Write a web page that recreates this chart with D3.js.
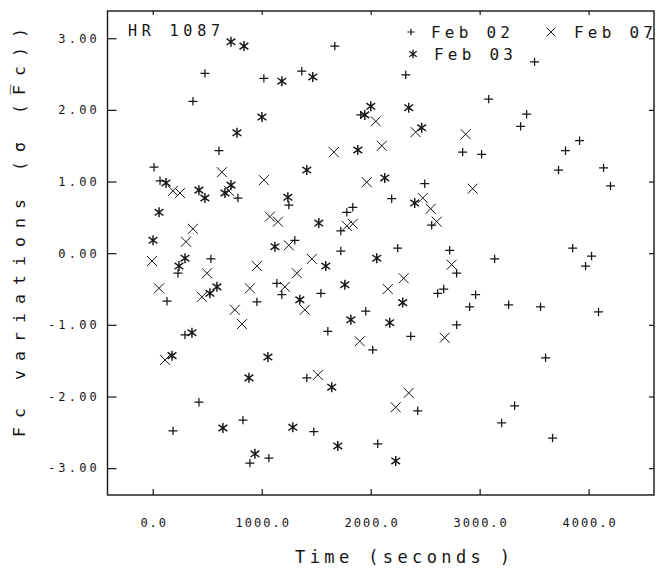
<!DOCTYPE html>
<html>
<head>
<meta charset="utf-8">
<script src="https://cdn.jsdelivr.net/npm/d3@7"></script>
<style>
  html, body { margin: 0; padding: 0; background: #fff; }
  svg { display: block; }
</style>
</head>
<body>
<svg id="chart" width="658" height="569"></svg>
<script>
// Feb 02 observations (plus markers)
const feb02Time = [1671, 479, 369, 1020, 1368, 608, 12, 67, 782, 1249, 1304, 2322, 1909, 2844, 3018, 2496, 2193, 1781, 1836, 1726, 2560, 1726, 2248, 2725, 3138, 3504, 3083, 3431, 3376, 3917, 3788, 3724, 4137, 4201, 3853, 4027, 3972, 2789, 534, 232, 131, 956, 1139, 1185, 1543, 1607, 1955, 2019, 2368, 2615, 2670, 2963, 2908, 2789, 3266, 3559, 4091, 3605, 3321, 3202, 3669, 2432, 2065, 1478, 1414, 296, 424, 828, 186, 892, 1066];
const feb02Fc = [2.89, 2.51, 2.12, 2.44, 2.54, 1.43, 1.20, 1.01, 0.77, 0.67, 0.18, 2.49, 1.93, 1.41, 1.38, 0.97, 0.76, 0.57, 0.64, 0.31, 0.39, 0.03, 0.07, 0.04, -0.08, 2.67, 2.15, 1.94, 1.77, 1.57, 1.43, 1.16, 1.19, 0.94, 0.07, -0.04, -0.18, -0.28, -0.08, -0.28, -0.67, -0.68, -0.42, -0.58, -0.56, -1.09, -0.81, -1.35, -1.16, -0.56, -0.50, -0.58, -0.75, -1.00, -0.72, -0.75, -0.82, -1.46, -2.13, -2.37, -2.58, -2.20, -2.66, -2.49, -1.74, -1.14, -2.08, -2.33, -2.48, -2.93, -2.86];

// Feb 03 observations (asterisk markers)
const feb03Time = [718, 837, 1185, 1469, 1002, 773, 122, 424, 479, 663, 718, 1240, 58, 3, 1121, 1414, 1524, 2001, 1946, 2349, 2468, 1882, 2129, 2404, 296, 241, 525, 589, 360, 177, 1057, 883, 644, 938, 1286, 1350, 1588, 1763, 2056, 2294, 1818, 2175, 1643, 1698, 2230];
const feb03Fc = [2.95, 2.89, 2.40, 2.46, 1.90, 1.68, 0.98, 0.88, 0.77, 0.84, 0.95, 0.78, 0.57, 0.18, 0.09, 1.16, 0.42, 2.05, 1.93, 2.03, 1.75, 1.44, 1.05, 0.70, -0.07, -0.18, -0.56, -0.47, -1.11, -1.43, -1.45, -1.74, -2.44, -2.80, -2.43, -0.65, -0.18, -0.44, -0.07, -0.69, -0.93, -0.97, -1.87, -2.69, -2.90];

// Feb 07 observations (cross markers)
const feb07Time = [635, 1020, 186, 250, 699, 1075, 1149, 369, 305, 1249, -6, 498, 58, 452, 956, 892, 1213, 754, 819, 113, 1396, 1323, 1460, 1515, 1662, 2102, 2047, 2413, 2872, 1964, 2478, 2551, 2606, 2936, 1781, 1836, 2303, 2157, 2743, 2679, 1900, 2349, 2230];
const feb07Fc = [1.13, 1.02, 0.87, 0.84, 0.87, 0.51, 0.44, 0.34, 0.16, 0.11, -0.11, -0.28, -0.49, -0.61, -0.18, -0.49, -0.47, -0.79, -0.99, -1.49, -0.79, -0.28, -0.08, -1.70, 1.41, 1.50, 1.84, 1.69, 1.66, 0.99, 0.77, 0.62, 0.44, 0.90, 0.38, 0.41, -0.35, -0.50, -0.16, -1.18, -1.23, -1.95, -2.15];

// Axis ticks and their printed labels
const xTicks = [0, 1000, 2000, 3000, 4000];
const xTickLabels = ["0.0", "1000.0", "2000.0", "3000.0", "4000.0"];
const yTicks = [3, 2, 1, 0, -1, -2, -3];
const yTickLabels = ["3.00", "2.00", "1.00", "0.00", "-1.00", "-2.00", "-3.00"];

const seriesNames = ["Feb 02", "Feb 03", "Feb 07"];
const titleText = "HR 1087";
const xTitle = "Time (seconds )";
const yTitle = "Fc variations (\u03C3 (F\u0305c))";

const INK = "#151515";
const FONT = "'DejaVu Sans Mono', 'Liberation Mono', monospace";

const svg = d3.select("#chart");
svg.append("rect").attr("width", 658).attr("height", 569).attr("fill", "#fff");

const plot = { left: 107.5, right: 654, top: 11, bottom: 495 };

const x = d3.scaleLinear().domain([-415, 4600]).range([plot.left, plot.right]);
const y = d3.scaleLinear().domain([-3.375, 3.38]).range([plot.bottom, plot.top]);

// Marker glyphs drawn as stroked paths
const glyph = {
  plus: s => `M${-4.5*s},0H${4.5*s}M0,${-4.2*s}V${4.2*s}`,
  cross: s => `M${-5*s},${-5*s}L${5*s},${5*s}M${-5*s},${5*s}L${5*s},${-5*s}`,
  star: s => `M0,${-5*s}V${5*s}M${-4.4*s},${-3.2*s}L${4.4*s},${3.2*s}M${-4.4*s},${3.2*s}L${4.4*s},${-3.2*s}`
};

// Axes: ticks point inward on all four sides
function styleAxis(g) {
  g.select(".domain").remove();
  g.selectAll(".tick line").attr("stroke", INK).attr("stroke-width", 1.2);
  g.selectAll(".tick text")
    .attr("fill", INK)
    .style("font-family", FONT);
}

svg.append("g")
  .attr("transform", `translate(${plot.left},0)`)
  .call(d3.axisLeft(y).tickValues(yTicks).tickSizeInner(-9).tickSizeOuter(0)
    .tickPadding(7.5).tickFormat((d, i) => yTickLabels[i]))
  .call(styleAxis)
  .call(g => g.selectAll(".tick text")
    .style("font-size", "12px").style("letter-spacing", "3.2px"));

svg.append("g")
  .attr("transform", `translate(0,${plot.bottom})`)
  .call(d3.axisBottom(x).tickValues(xTicks).tickSizeInner(-6).tickSizeOuter(0)
    .tickPadding(23.5).tickFormat((d, i) => xTickLabels[i]))
  .call(styleAxis)
  .call(g => g.selectAll(".tick text")
    .style("font-size", "12px").style("letter-spacing", "2px").attr("dx", "1px"));

svg.append("g")
  .attr("transform", `translate(0,${plot.top})`)
  .call(d3.axisTop(x).tickValues(xTicks).tickSizeInner(-4).tickSizeOuter(0).tickFormat(() => ""))
  .call(styleAxis);

svg.append("g")
  .attr("transform", `translate(${plot.right},0)`)
  .call(d3.axisRight(y).tickValues(yTicks).tickSizeInner(-5).tickSizeOuter(0).tickFormat(() => ""))
  .call(styleAxis);

// Plot frame
svg.append("rect")
  .attr("x", plot.left).attr("y", plot.top)
  .attr("width", plot.right - plot.left).attr("height", plot.bottom - plot.top)
  .attr("fill", "none").attr("stroke", INK).attr("stroke-width", 1.4);

// Data points
const series = [
  { name: seriesNames[0], t: feb02Time, v: feb02Fc, shape: "plus", w: 1.25 },
  { name: seriesNames[1], t: feb03Time, v: feb03Fc, shape: "star", w: 1.45 },
  { name: seriesNames[2], t: feb07Time, v: feb07Fc, shape: "cross", w: 1.0 }
];

const pts = svg.append("g");
series.forEach(s => {
  pts.append("g").selectAll("path")
    .data(s.t.map((t, i) => [t, s.v[i]]))
    .join("path")
    .attr("transform", d => `translate(${x(d[0])},${y(d[1])})`)
    .attr("d", glyph[s.shape](1))
    .attr("fill", "none").attr("stroke", INK).attr("stroke-width", s.w);
});

// Star name
svg.append("text")
  .attr("x", 128).attr("y", 36)
  .attr("textLength", 92).attr("lengthAdjust", "spacing")
  .style("font-family", FONT).style("font-size", "15px")
  .attr("fill", INK).text(titleText);

// Legend
const legend = [
  { shape: "plus", mx: 411, my: 32, tx: 431, ty: 37.5, label: seriesNames[0], w: 1.2, s: 0.8 },
  { shape: "cross", mx: 551, my: 32, tx: 574, ty: 37.5, label: seriesNames[2], w: 1.0, s: 0.9 },
  { shape: "star", mx: 413, my: 54, tx: 434, ty: 59.5, label: seriesNames[1], w: 1.3, s: 0.85 }
];
const lg = svg.append("g");
legend.forEach(l => {
  lg.append("path")
    .attr("transform", `translate(${l.mx},${l.my})`)
    .attr("d", glyph[l.shape](l.s))
    .attr("fill", "none").attr("stroke", INK).attr("stroke-width", l.w);
  lg.append("text")
    .attr("x", l.tx).attr("y", l.ty)
    .attr("textLength", 79).attr("lengthAdjust", "spacing")
    .style("font-family", FONT).style("font-size", "16px")
    .attr("fill", INK).text(l.label);
});

// Axis titles
svg.append("text")
  .attr("x", 295).attr("y", 563)
  .attr("textLength", 215).attr("lengthAdjust", "spacing")
  .style("font-family", FONT).style("font-size", "17px")
  .attr("fill", INK).text(xTitle);

svg.append("text")
  .attr("transform", "translate(25,437) rotate(-90)")
  .attr("textLength", 409).attr("lengthAdjust", "spacing")
  .style("font-family", FONT).style("font-size", "16.5px")
  .attr("fill", INK).text(yTitle);
</script>
</body>
</html>
